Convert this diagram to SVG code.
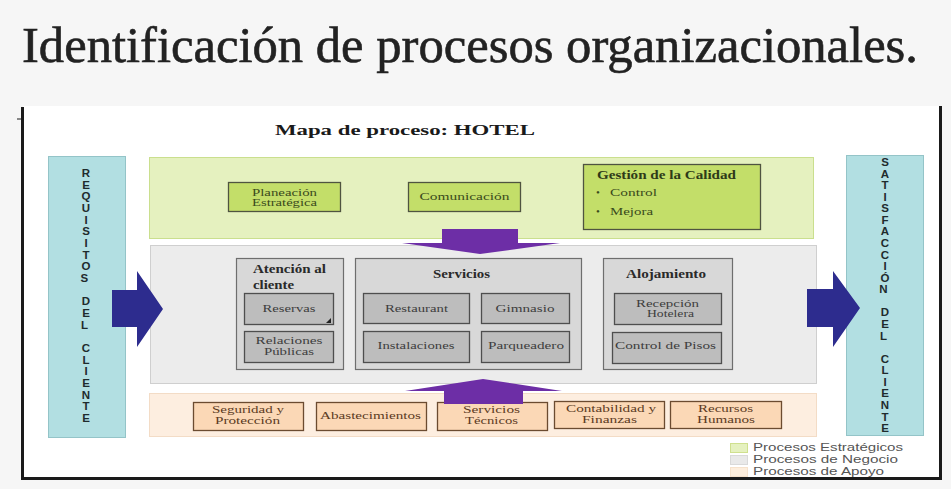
<svg xmlns="http://www.w3.org/2000/svg" width="951" height="489" viewBox="0 0 951 489">
  <defs>
    <style>
      .serif { font-family: "Liberation Serif", "Times New Roman", serif; }
      .sans { font-family: "Liberation Sans", Arial, sans-serif; }
      .band-strat { fill: #e5f1bf; stroke: #cadf8e; stroke-width: 1; }
      .band-neg { fill: #ececec; stroke: #cfcfcf; stroke-width: 1; }
      .band-apoyo { fill: #fdeee0; stroke: #f3dcc6; stroke-width: 1; }
      .client { fill: #b2dfe2; stroke: #94c4c8; stroke-width: 1; }
      .vtext { font-family: "Liberation Sans", Arial, sans-serif; font-weight: bold; font-size: 11.5px; fill: #1f2b2d; text-anchor: middle; }
      .gbox { fill: #c3de69; stroke: #4f5440; stroke-width: 1.3; }
      .gtxt { font-size: 11px; fill: #3a4a1c; text-anchor: middle; }
      .group { fill: #d8d8d8; stroke: #6e6e6e; stroke-width: 1.2; }
      .item { fill: #bdbdbd; stroke: #4e4e4e; stroke-width: 1.3; }
      .itxt { font-size: 11px; fill: #3d3d3d; text-anchor: middle; }
      .ttl { font-size: 11.5px; font-weight: bold; fill: #2a2a2a; }
      .pbox { fill: #fbd8b6; stroke: #6b4b30; stroke-width: 1.3; }
      .ptxt { font-size: 11px; fill: #5b3b1f; text-anchor: middle; }
      .two { font-size: 9.5px; }
      .purple { fill: #6d2ea6; }
      .blue { fill: #2d2c8e; }
      .leg { font-size: 11px; fill: #555555; }
    </style>
  </defs>

  <!-- page background and framed sheet -->
  <rect x="0" y="0" width="951" height="489" fill="#f6f6f6"/>
  <rect x="23" y="106" width="918" height="372" fill="#ffffff"/>
  <rect x="21" y="107" width="3" height="373" fill="#1a1a1a"/>
  <rect x="939" y="106" width="3" height="374" fill="#1a1a1a"/>
  <rect x="21" y="477" width="921" height="3" fill="#1a1a1a"/>
  <line x1="17" y1="119" x2="21" y2="119" stroke="#1a1a1a" stroke-width="1"/>

  <!-- heading -->
  <text class="serif" x="22" y="62" font-size="50" fill="#222222" stroke="#222222" stroke-width="0.6" textLength="896" lengthAdjust="spacingAndGlyphs">Identificación de procesos organizacionales.</text>
  <text class="serif" x="275" y="135" font-size="14.5" font-weight="bold" fill="#1a1a1a" textLength="260" lengthAdjust="spacingAndGlyphs">Mapa de proceso: HOTEL</text>

  <!-- process bands -->
  <rect class="band-strat" x="149.5" y="157.5" width="664" height="81"/>
  <rect class="band-neg" x="150.5" y="245.5" width="666" height="138"/>
  <rect class="band-apoyo" x="149.5" y="393.5" width="667" height="43"/>

  <!-- customer columns -->
  <g id="requisitos-cliente">
    <rect class="client" x="48.5" y="156.5" width="77" height="281"/>
    <text class="vtext">
      <tspan x="86" y="177">R</tspan><tspan x="86" y="188.7">E</tspan><tspan x="86" y="200.3">Q</tspan><tspan x="86" y="212">U</tspan><tspan x="86" y="223.7">I</tspan><tspan x="86" y="235.4">S</tspan><tspan x="86" y="247">I</tspan><tspan x="86" y="258.7">T</tspan><tspan x="86" y="270.4">O</tspan><tspan x="86" y="282">S</tspan>
      <tspan x="86" y="305.4">D</tspan><tspan x="86" y="317">E</tspan><tspan x="86" y="328.7">L</tspan>
      <tspan x="86" y="352">C</tspan><tspan x="86" y="363.7">L</tspan><tspan x="86" y="375.4">I</tspan><tspan x="86" y="387">E</tspan><tspan x="86" y="398.7">N</tspan><tspan x="86" y="410.4">T</tspan><tspan x="86" y="422">E</tspan>
    </text>
  </g>
  <g id="satisfaccion-cliente">
    <rect class="client" x="846.5" y="155.5" width="77" height="280"/>
    <text class="vtext">
      <tspan x="885" y="166">S</tspan><tspan x="885" y="177.6">A</tspan><tspan x="885" y="189.1">T</tspan><tspan x="885" y="200.7">I</tspan><tspan x="885" y="212.3">S</tspan><tspan x="885" y="223.9">F</tspan><tspan x="885" y="235.4">A</tspan><tspan x="885" y="247">C</tspan><tspan x="885" y="258.6">C</tspan><tspan x="885" y="270.1">I</tspan><tspan x="885" y="281.7">Ó</tspan><tspan x="885" y="293.3">N</tspan>
      <tspan x="885" y="316.4">D</tspan><tspan x="885" y="328">E</tspan><tspan x="885" y="339.6">L</tspan>
      <tspan x="885" y="362.7">C</tspan><tspan x="885" y="374.3">L</tspan><tspan x="885" y="385.9">I</tspan><tspan x="885" y="397.4">E</tspan><tspan x="885" y="409">N</tspan><tspan x="885" y="420.6">T</tspan><tspan x="885" y="432.1">E</tspan>
    </text>
  </g>

  <!-- strategic processes -->
  <g id="planeacion" class="serif">
    <rect class="gbox" x="228.5" y="182.5" width="112" height="29"/>
    <text class="gtxt two" x="284.5" y="195.5" textLength="65" lengthAdjust="spacingAndGlyphs">Planeación</text>
    <text class="gtxt two" x="284.5" y="206" textLength="65" lengthAdjust="spacingAndGlyphs">Estratégica</text>
  </g>
  <g id="comunicacion" class="serif">
    <rect class="gbox" x="408.5" y="182.5" width="112" height="29"/>
    <text class="gtxt" x="464.5" y="200" textLength="90" lengthAdjust="spacingAndGlyphs">Comunicación</text>
  </g>
  <g id="gestion-calidad" class="serif">
    <rect class="gbox" x="583.5" y="164.5" width="177" height="65"/>
    <text x="597" y="179" font-size="11.5" font-weight="bold" fill="#2e3a18" textLength="139" lengthAdjust="spacingAndGlyphs">Gestión de la Calidad</text>
    <text x="596" y="196" font-size="11" fill="#3a4a1c">•</text>
    <text x="610" y="196" font-size="11" fill="#3a4a1c" textLength="47" lengthAdjust="spacingAndGlyphs">Control</text>
    <text x="596" y="215" font-size="11" fill="#3a4a1c">•</text>
    <text x="610" y="215" font-size="11" fill="#3a4a1c" textLength="43" lengthAdjust="spacingAndGlyphs">Mejora</text>
  </g>

  <!-- business processes -->
  <g id="atencion-cliente" class="serif">
    <rect class="group" x="236.5" y="258.5" width="107" height="111"/>
    <text class="ttl" x="253" y="273" textLength="73" lengthAdjust="spacingAndGlyphs">Atención al</text>
    <text class="ttl" x="253" y="289" textLength="41" lengthAdjust="spacingAndGlyphs">cliente</text>
  </g>
  <g id="reservas" class="serif">
    <rect class="item" x="244.5" y="293.5" width="89" height="31"/>
    <polygon points="331,318 331,323 326,323" fill="#222222"/>
    <text class="itxt" x="289" y="312" textLength="53" lengthAdjust="spacingAndGlyphs">Reservas</text>
  </g>
  <g id="relaciones-publicas" class="serif">
    <rect class="item" x="244.5" y="331.5" width="89" height="31"/>
    <text class="itxt two" x="289" y="344" textLength="67" lengthAdjust="spacingAndGlyphs">Relaciones</text>
    <text class="itxt two" x="289" y="355" textLength="50" lengthAdjust="spacingAndGlyphs">Públicas</text>
  </g>

  <g id="servicios" class="serif">
    <rect class="group" x="355.5" y="258.5" width="226" height="111"/>
    <text class="ttl" x="433" y="278" textLength="57" lengthAdjust="spacingAndGlyphs">Servicios</text>
  </g>
  <g id="restaurant" class="serif">
    <rect class="item" x="363.5" y="293.5" width="106" height="30"/>
    <text class="itxt" x="416.5" y="312" textLength="63" lengthAdjust="spacingAndGlyphs">Restaurant</text>
  </g>
  <g id="gimnasio" class="serif">
    <rect class="item" x="481.5" y="293.5" width="88" height="30"/>
    <text class="itxt" x="525" y="312" textLength="59" lengthAdjust="spacingAndGlyphs">Gimnasio</text>
  </g>
  <g id="instalaciones" class="serif">
    <rect class="item" x="363.5" y="331.5" width="106" height="31"/>
    <text class="itxt" x="416" y="349" textLength="77" lengthAdjust="spacingAndGlyphs">Instalaciones</text>
  </g>
  <g id="parqueadero" class="serif">
    <rect class="item" x="481.5" y="331.5" width="88" height="31"/>
    <text class="itxt" x="526" y="349" textLength="76" lengthAdjust="spacingAndGlyphs">Parqueadero</text>
  </g>

  <g id="alojamiento" class="serif">
    <rect class="group" x="603.5" y="258.5" width="129" height="111"/>
    <text class="ttl" x="626" y="278" textLength="80" lengthAdjust="spacingAndGlyphs">Alojamiento</text>
  </g>
  <g id="recepcion-hotelera" class="serif">
    <rect class="item" x="614.5" y="293.5" width="107" height="31"/>
    <text class="itxt two" x="667.5" y="306.5" textLength="63" lengthAdjust="spacingAndGlyphs">Recepción</text>
    <text class="itxt two" x="670.5" y="317" textLength="47" lengthAdjust="spacingAndGlyphs">Hotelera</text>
  </g>
  <g id="control-pisos" class="serif">
    <rect class="item" x="612.5" y="332.5" width="109" height="31"/>
    <text class="itxt" x="665.5" y="349" textLength="101" lengthAdjust="spacingAndGlyphs">Control de Pisos</text>
  </g>

  <!-- support processes -->
  <g id="seguridad" class="serif">
    <rect class="pbox" x="193.5" y="402.5" width="110" height="28"/>
    <text class="ptxt two" x="248" y="413" textLength="72" lengthAdjust="spacingAndGlyphs">Seguridad y</text>
    <text class="ptxt two" x="247.5" y="424" textLength="65" lengthAdjust="spacingAndGlyphs">Protección</text>
  </g>
  <g id="abastecimientos" class="serif">
    <rect class="pbox" x="316.5" y="402.5" width="110" height="28"/>
    <text class="ptxt" x="370.5" y="419" textLength="101" lengthAdjust="spacingAndGlyphs">Abastecimientos</text>
  </g>
  <g id="servicios-tecnicos" class="serif">
    <rect class="pbox" x="437.5" y="402.5" width="110" height="28"/>
    <text class="ptxt two" x="491.5" y="413" textLength="57" lengthAdjust="spacingAndGlyphs">Servicios</text>
    <text class="ptxt two" x="491.5" y="424" textLength="53" lengthAdjust="spacingAndGlyphs">Técnicos</text>
  </g>
  <g id="contabilidad" class="serif">
    <rect class="pbox" x="554.5" y="401.5" width="110" height="27"/>
    <text class="ptxt two" x="611" y="412" textLength="90" lengthAdjust="spacingAndGlyphs">Contabilidad y</text>
    <text class="ptxt two" x="609.5" y="423" textLength="55" lengthAdjust="spacingAndGlyphs">Finanzas</text>
  </g>
  <g id="recursos-humanos" class="serif">
    <rect class="pbox" x="670.5" y="401.5" width="111" height="27"/>
    <text class="ptxt two" x="725.5" y="412" textLength="55" lengthAdjust="spacingAndGlyphs">Recursos</text>
    <text class="ptxt two" x="726" y="423" textLength="58" lengthAdjust="spacingAndGlyphs">Humanos</text>
  </g>

  <!-- flow arrows -->
  <g id="connectors">
    <polygon class="purple" points="442,229 518,229 518,243 560,243 480,254 402,243 442,243"/>
    <polygon class="purple" points="444,404 523,404 523,391 562,391 483,379 405,391 444,391"/>
    <polygon class="blue" points="112,290 137,290 137,271 163,309 137,347 137,327 112,327"/>
    <polygon class="blue" points="807,289 833,289 833,271 860,308 833,347 833,327 807,327"/>
  </g>

  <!-- legend -->
  <g id="legend" class="sans">
    <rect x="730.5" y="443.5" width="17" height="9" fill="#e5f1bf" stroke="#cfe08e" stroke-width="1"/>
    <rect x="730.5" y="455.5" width="17" height="9" fill="#e9e9e9" stroke="#d9d9d9" stroke-width="1"/>
    <rect x="730.5" y="467.5" width="17" height="9" fill="#fdeedd" stroke="#f6e2cc" stroke-width="1"/>
    <text class="leg" x="753" y="451" textLength="150" lengthAdjust="spacingAndGlyphs">Procesos Estratégicos</text>
    <text class="leg" x="753" y="463" textLength="145" lengthAdjust="spacingAndGlyphs">Procesos de Negocio</text>
    <text class="leg" x="753" y="475" textLength="131" lengthAdjust="spacingAndGlyphs">Procesos de Apoyo</text>
  </g>
</svg>
